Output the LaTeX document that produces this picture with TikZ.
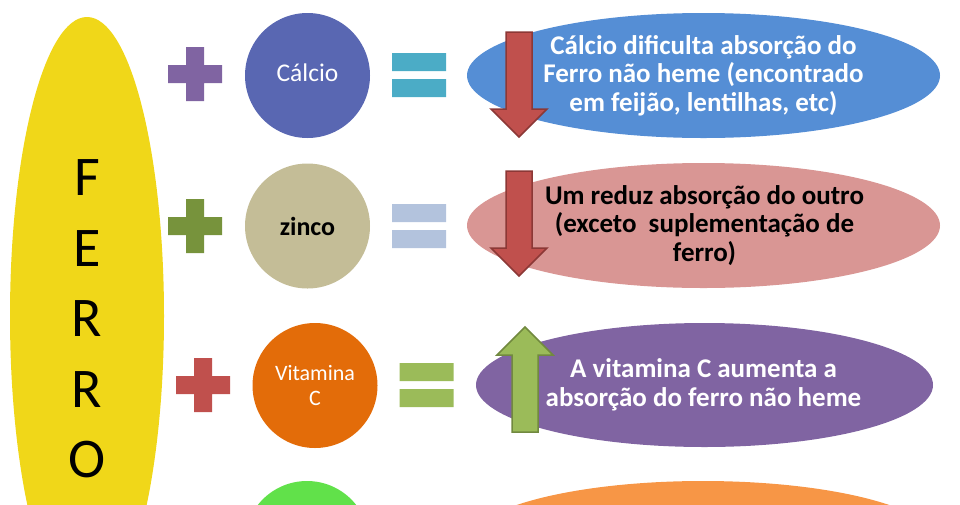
\documentclass[tikz,border=0pt]{standalone}
\usepackage{fontspec}
\setmainfont{Carlito}
\usepackage{tikz}
\usetikzlibrary{shapes.geometric}
\definecolor{ferroyellow}{HTML}{F0D719}
\definecolor{plusviolet}{HTML}{8064A2}
\definecolor{plusgreen}{HTML}{77933C}
\definecolor{plusred}{HTML}{C0504D}
\definecolor{calcioblue}{HTML}{5967B2}
\definecolor{zincobeige}{HTML}{C4BD97}
\definecolor{vitorange}{HTML}{E36C09}
\definecolor{lastgreen}{HTML}{61E14A}
\definecolor{eqcyan}{HTML}{4BACC6}
\definecolor{eqgrey}{HTML}{B3C3DD}
\definecolor{eqgreen}{HTML}{9BBB59}
\definecolor{ellblue}{HTML}{558ED5}
\definecolor{ellpink}{HTML}{D99694}
\definecolor{ellviolet}{HTML}{8064A2}
\definecolor{ellorange}{HTML}{F79646}
\definecolor{arrowred}{HTML}{C0504D}
\definecolor{arrowredline}{HTML}{8C3836}
\definecolor{arrowgreen}{HTML}{9BBB59}
\definecolor{arrowgreenline}{HTML}{71893F}
\tikzset{%
    nutrient/.style={circle, inner sep=0pt, minimum size=125pt},
    effect/.style={ellipse, inner sep=0pt, minimum width=473pt, minimum height=125pt},
    note/.style={align=center, font=\fontsize{27}{28.5}\selectfont\bfseries},
    plussign/.pic={\path[pic actions] (-27,-9) rectangle (27,9) (-9,-27) rectangle (9,27);},
    equalsign/.pic={\path[pic actions] (-27,-22) rectangle (27,-4) (-27,4) rectangle (27,22);},
    blockarrow/.pic={\path[pic actions, line width=1.5pt] (-13,-105) -- (13,-105) -- (13,-28) -- (28,-28)
        -- (0,0) -- (-28,-28) -- (-13,-28) -- cycle;}
}
\begin{document}
\begin{tikzpicture}[x=1pt,y=-1pt]
    \useasboundingbox (0,0) rectangle (960,504);
    \clip (0,0) rectangle (960,504);
    % ferro
    \node[ellipse, fill=ferroyellow, inner sep=0pt, minimum width=154pt, minimum height=598pt] (ferro) at (87,316) {};
    \foreach \l [count=\i] in {F,E,R,R,O}
    {
    \node[font=\fontsize{56}{56}\selectfont] (letter\i) at (87,107.5+70.5*\i) {\l};
    }
    % plus and equals signs
    \pic[fill=plusviolet] at (195,74) {plussign};
    \pic[fill=plusgreen] at (195,226) {plussign};
    \pic[fill=plusred] at (203,385) {plussign};
    \pic[fill=eqcyan] at (419,75) {equalsign};
    \pic[fill=eqgrey] at (419,226) {equalsign};
    \pic[fill=eqgreen] at (426.5,385) {equalsign};
    % nutrients
    \node[nutrient, fill=calcioblue] (calcio) at (307.5,75.5) {};
    \node[text=white, font=\fontsize{25.5}{27}\selectfont] (calciotext) at ([yshift=2.5pt]calcio) {Cálcio};
    \node[nutrient, fill=zincobeige, font=\fontsize{26}{27}\selectfont\bfseries] (zinco) at (307.5,226) {zinco};
    \node[nutrient, fill=vitorange, text=white, align=center, font=\fontsize{22}{25}\selectfont] (vitc) at (315,385.5) {Vitamina\\C};
    \node[nutrient, fill=lastgreen] (last) at (307,543.5) {};
    % effects
    \node[effect, fill=ellblue] (e1) at (703.5,75.5) {};
    \node[effect, fill=ellpink] (e2) at (703.5,225.5) {};
    \node[effect, fill=ellviolet, minimum width=457pt, minimum height=124pt] (e3) at (704.5,385) {};
    \node[effect, fill=ellorange] (e4) at (703,543.5) {};
    \pic[fill=arrowred, draw=arrowredline] at (519,137) {blockarrow};
    \pic[fill=arrowred, draw=arrowredline] at (519,276) {blockarrow};
    \pic[fill=arrowgreen, draw=arrowgreenline, rotate=180] at (525,327) {blockarrow};
    \node[note, text=white] (t1) at (e1) {Cálcio dificulta absorção do\\Ferro não heme (encontrado\\em feijão, lentilhas, etc)};
    \node[note] (t2) at ([xshift=1pt]e2) {Um reduz absorção do outro\\(exceto\ \ suplementação de\\ferro)};
    \node[note, text=white] (t3) at ([xshift=-1pt]e3) {A vitamina C aumenta a\\absorção do ferro não heme};
\end{tikzpicture}
\end{document}
